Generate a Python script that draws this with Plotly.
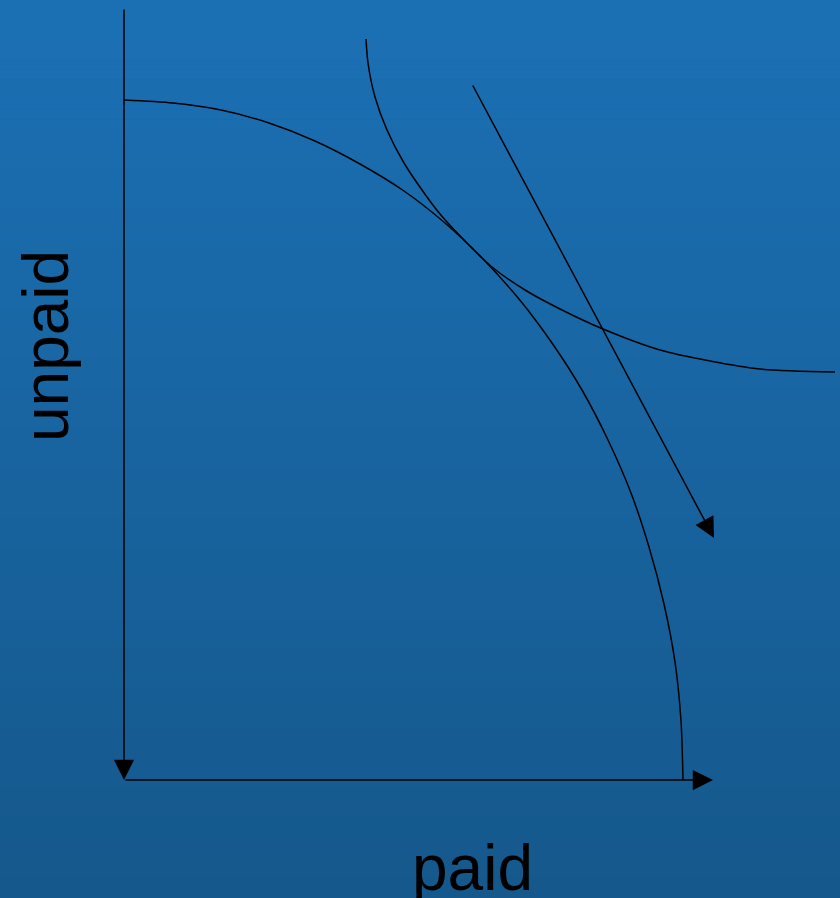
import plotly.graph_objects as go

# Diagram data (origin at the corner of the axes; units arbitrary)
ppf_x = [0, 49, 97, 145, 191, 236, 280, 321, 359, 395, 428, 458, 484, 507, 525, 540, 551, 557, 559]
ppf_y = [680, 677, 670, 657, 639, 616, 589, 557, 521, 481, 437, 390, 340, 287, 233, 176, 118, 59, 0]

ic_x = [242, 244, 251, 263, 280, 303, 316, 341, 368, 401, 436, 479, 536, 586, 636, 711]
ic_y = [741, 717, 683, 650, 617, 583, 566, 539, 513, 490, 471, 451, 430, 419, 411, 408]

# arrows: (tail_x, tail_y, tip_x, tip_y)
arrow_shift = (348, 696, 590, 242)
axis_y = (0, 772, 0, 0)
axis_x = (0, 0, 589, 0)

x_label = "paid"
y_label = "unpaid"

fig = go.Figure()

fig.add_trace(go.Scatter(x=ppf_x, y=ppf_y, mode="lines",
                         line=dict(color="black", width=1.5, shape="spline", smoothing=0.8),
                         hoverinfo="skip", showlegend=False))
fig.add_trace(go.Scatter(x=ic_x, y=ic_y, mode="lines",
                         line=dict(color="black", width=1.5, shape="spline", smoothing=0.8),
                         hoverinfo="skip", showlegend=False))

anns = []
for (tx, ty, hx, hy) in (arrow_shift, axis_y, axis_x):
    anns.append(dict(x=hx, y=hy, ax=tx, ay=ty, xref="x", yref="y", axref="x", ayref="y",
                     text="", showarrow=True, arrowhead=2, arrowsize=2.7, arrowwidth=1.5,
                     arrowcolor="black", standoff=0, startstandoff=0))

anns.append(dict(x=-78, y=434, xref="x", yref="y", text=y_label, showarrow=False,
                 textangle=-90, font=dict(family="Liberation Sans, Arial", size=64, color="black")))
anns.append(dict(x=348, y=-88, xref="x", yref="y", text=x_label, showarrow=False,
                 font=dict(family="Liberation Sans, Arial", size=64, color="black")))

# vertical gradient background
top = (27, 112, 180)
bot = (21, 88, 140)
n = 90
shapes = []
for i in range(n):
    t = i / (n - 1)
    c = tuple(round(top[k] + (bot[k] - top[k]) * t) for k in range(3))
    shapes.append(dict(type="rect", xref="paper", yref="paper",
                       x0=0, x1=1, y0=1 - (i + 1) / n, y1=1 - i / n + 0.0005,
                       fillcolor="rgb(%d,%d,%d)" % c, line=dict(width=0), layer="below"))

fig.update_layout(
    width=840, height=898,
    margin=dict(l=0, r=0, t=0, b=0),
    paper_bgcolor="rgb(24,100,160)", plot_bgcolor="rgba(0,0,0,0)",
    xaxis=dict(range=[-124, 716], visible=False, fixedrange=True),
    yaxis=dict(range=[-118, 780], visible=False, fixedrange=True),
    annotations=anns, shapes=shapes, showlegend=False,
)

fig.write_html("out.html", config={"displayModeBar": False},
               post_script="document.body.style.margin='0';document.body.style.overflow='hidden';"
                           "document.body.style.background='rgb(21,88,140)';")
